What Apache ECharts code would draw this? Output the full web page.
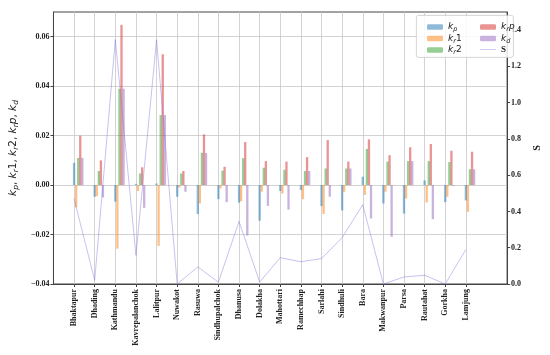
<!DOCTYPE html>
<html><head><meta charset="utf-8">
<script src="https://cdn.jsdelivr.net/npm/echarts@6/dist/echarts.min.js"></script>
<style>html,body{margin:0;padding:0;background:#fff}#c{width:550px;height:355px}</style>
</head><body><div id="c"></div>
<script>
const categories = ['Bhaktapur','Dhading','Kathmandu','Kavrepalanchok','Lalitpur','Nuwakot','Rasuwa','Sindhupalchok','Dhanusa','Dolakha','Mahottari','Ramechhap','Sarlahi','Sindhuli','Bara','Makwanpur','Parsa','Rautahat','Gorkha','Lamjung'];
const kp  = [0.009,-0.0047,-0.0067,0.0005,0.0006,-0.0047,-0.0117,-0.0057,-0.0071,-0.0144,-0.0024,-0.002,-0.0085,-0.0102,0.0034,-0.0074,-0.0115,0.0019,-0.0069,-0.0062];
const kr1 = [-0.009,-0.0045,-0.0257,-0.0024,-0.0246,-0.001,-0.0074,-0.0013,-0.0065,-0.0027,-0.0034,-0.0057,-0.0117,-0.0027,-0.004,-0.0027,-0.0054,-0.007,-0.0047,-0.0108];
const kr2 = [0.011,0.0057,0.0389,0.0047,0.0283,0.0047,0.0131,0.0058,0.0109,0.007,0.0062,0.0057,0.0067,0.0067,0.0146,0.0095,0.0097,0.0097,0.0093,0.0064];
const krp = [0.020,0.010,0.0648,0.0072,0.0529,0.0057,0.0205,0.0074,0.0174,0.0097,0.0095,0.0113,0.0182,0.0095,0.0185,0.0121,0.0153,0.0166,0.0139,0.0135];
const kd  = [0.011,-0.005,0.039,-0.0092,0.0283,-0.0027,0.013,-0.0069,-0.0204,-0.0084,-0.0099,0.0057,-0.0047,0.0067,-0.0135,-0.0209,0.0097,-0.0138,-0.0003,0.0064];
const S   = [0.47,0.02,1.348,0.158,1.347,0.0,0.094,0.01,0.345,0.011,0.145,0.123,0.14,0.256,0.437,0.0,0.039,0.048,0.0,0.19];
const leftTicks = [-0.04,-0.02,0,0.02,0.04,0.06];
const rightTicks = [0,0.2,0.4,0.6,0.8,1.0,1.2,1.4];

const barOffsets = [0,0.1,0.2,0.3,0.4];
const barColors = ['rgba(31,119,180,0.5)','rgba(255,127,14,0.5)','rgba(44,160,44,0.5)','rgba(214,39,40,0.5)','rgba(148,103,189,0.5)'];
const barNames = ['kp','kr1','kr2','krp','kd'];
const barData = [kp,kr1,kr2,krp,kd];
const idx = categories.map((c,i)=>i);
const lineColor = 'rgba(130,120,220,0.45)';

const richK = {
  k:{fontFamily:'DejaVu Sans',fontStyle:'italic',fontSize:9,color:'#222',lineHeight:12},
  n:{fontFamily:'DejaVu Sans',fontSize:9,color:'#222',lineHeight:12},
  s:{fontFamily:'DejaVu Sans',fontStyle:'italic',fontSize:6.5,color:'#222',verticalAlign:'bottom',padding:[4,0,0,0],lineHeight:12},
  b:{fontFamily:'Liberation Serif',fontWeight:'bold',fontSize:9,color:'#222',lineHeight:12}
};
const labelMap = {
  kp:'{k|k}{s|p}', kr1:'{k|k}{s|r}{n|1}', kr2:'{k|k}{s|r}{n|2}', krp:'{k|k}{s|r}{k|p}', kd:'{k|k}{s|d}', S:'{b|S}'
};
const fmtNum = (v,d)=> (v<0?'\u2212':'') + Math.abs(v).toFixed(d);

const series = barNames.map((nm,k)=>({
  name:nm, type:'bar', xAxisIndex:0, yAxisIndex:0,
  barWidth:2.3, barGap:'-100%',
  itemStyle:{color:barColors[k]},
  data: barData[k].map((v,i)=>[i+barOffsets[k], v]),
  z:3
}));
series.push({
  name:'S', type:'line', xAxisIndex:0, yAxisIndex:1,
  data: S.map((v,i)=>[i,v]), showSymbol:false, symbol:'none',
  lineStyle:{color:lineColor,width:1}, itemStyle:{color:lineColor}, z:4
});

const axisFont = {fontFamily:'Liberation Serif',fontWeight:'bold',fontSize:8,color:'#222'};
const legendCommon = {orient:'vertical', itemGap:0.5, z:20, itemWidth:16, itemHeight:5.5, itemTextGap:6,
  formatter:n=>labelMap[n], textStyle:{rich:richK}};
const option = {
  animation:false,
  backgroundColor:'#fff',
  grid:{left:51,right:33,top:12,bottom:71,show:true,borderColor:'#444',borderWidth:1,backgroundColor:'transparent'},
  xAxis:{
    type:'value', min:-1, max:20+1, interval:1,
    axisLine:{show:true,onZero:false,lineStyle:{color:'#444'}},
    axisTick:{show:true,length:3,lineStyle:{color:'#444'},customValues:idx},
    axisLabel:Object.assign({rotate:90,margin:5,customValues:idx,formatter:v=>categories[Math.round(v)]||''},axisFont),
    splitLine:{show:true,lineStyle:{color:'#c8c8c8',width:0.8}}
  },
  yAxis:[{
    type:'value', min:-0.04, max:0.07, interval:0.02, position:'left',
    axisLine:{show:true,onZero:false,lineStyle:{color:'#444'}},
    axisTick:{show:true,length:3,lineStyle:{color:'#444'},customValues:leftTicks},
    axisLabel:Object.assign({customValues:leftTicks,margin:4,formatter:v=>fmtNum(v,2)},axisFont),
    splitLine:{show:true,lineStyle:{color:'#c8c8c8',width:0.8}},
    name:'{k|k}{s|p}{n|, }{k|k}{s|r}{n|1, }{k|k}{s|r}{n|2, }{k|k}{s|r}{k|p}{n|, }{k|k}{s|d}',
    nameLocation:'middle', nameGap:32, nameRotate:90,
    nameTextStyle:{rich:{
      k:{fontFamily:'DejaVu Sans',fontStyle:'italic',fontSize:10.5,color:'#222'},
      n:{fontFamily:'DejaVu Sans',fontSize:10.5,color:'#222'},
      s:{fontFamily:'DejaVu Sans',fontStyle:'italic',fontSize:7.5,color:'#222',verticalAlign:'bottom',padding:[5,0,0,0]}
    }}
  },{
    type:'value', min:0, max:1.5, interval:0.2, position:'right',
    axisLine:{show:true,onZero:false,lineStyle:{color:'#444'}},
    axisTick:{show:true,length:3,lineStyle:{color:'#444'},customValues:rightTicks},
    axisLabel:Object.assign({customValues:rightTicks,margin:4,formatter:v=>v.toFixed(1)},axisFont),
    splitLine:{show:false},
    name:'S', nameLocation:'middle', nameGap:22, nameRotate:90,
    nameTextStyle:{fontFamily:'Liberation Serif',fontWeight:'bold',fontSize:10,color:'#222'}
  }],
  legend:[
    Object.assign({data:['kp','kr1','kr2'], left:422, top:17}, legendCommon),
    Object.assign({data:['krp','kd',{name:'S',icon:'path://M0,0L18,0L18,0.9L0,0.9Z'}], left:475, top:17}, legendCommon)
  ],
  graphic:[{type:'rect',left:416,top:15,z:1,shape:{width:97,height:42,r:2},style:{fill:'rgba(255,255,255,0.85)',stroke:'#ccc',lineWidth:0.8}}],
  series:series
};
const chart = echarts.init(document.getElementById('c'),null,{renderer:'canvas'});
chart.setOption(option);
</script></body></html>
